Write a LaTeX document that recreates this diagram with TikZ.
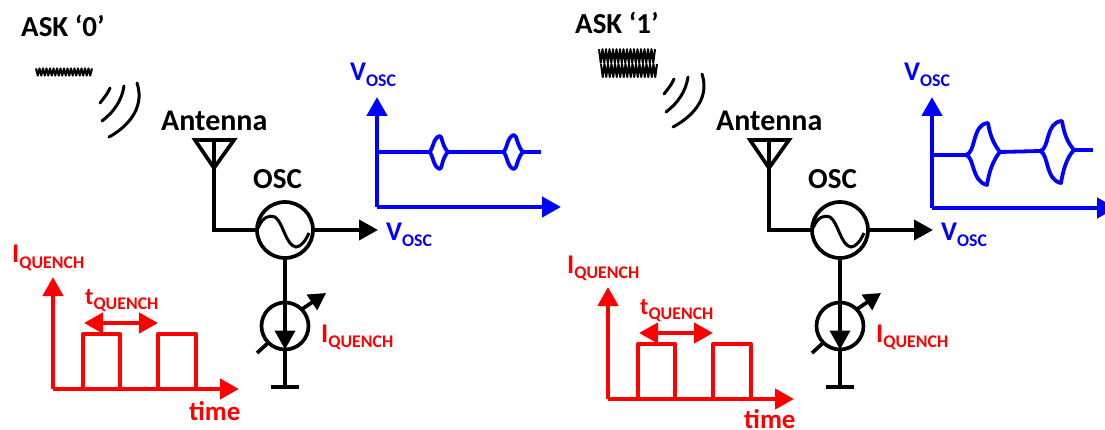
\documentclass[tikz,border=0pt]{standalone}
\usepackage{fontspec}
\setmainfont{Carlito}
\usetikzlibrary{arrows.meta,calc}
\definecolor{ablue}{RGB}{0,0,255}
\definecolor{ared}{RGB}{255,0,0}
\newcommand{\sbs}[1]{\raisebox{-5.5pt}{\fontsize{17.8}{17.8}\selectfont\bfseries #1}}
\tikzset{
  wire/.style={line width=3.7pt,draw=black,line join=miter},
  tipk/.style={-{Triangle[length=19pt,width=20pt]}},
  tipkk/.style={{Triangle[length=19pt,width=20pt]}-{Triangle[length=19pt,width=20pt]}},
  bchart/.style={line width=4.5pt,draw=ablue,color=ablue},
  rchart/.style={line width=4.3pt,draw=ared,color=ared},
  wave/.style={line width=3.8pt,draw=ablue,line join=round},
  arcw/.style={line width=3pt,draw=black,line cap=round},
  sq/.style={line width=2pt,draw=black,line join=round},
  ring/.style={circle,draw=black,line width=3.7pt,fill=white,inner sep=0pt,outer sep=0pt},
  big/.style={font=\fontsize{29}{29}\selectfont\bfseries,inner sep=0pt,anchor=base west},
  mid/.style={font=\fontsize{27}{27}\selectfont\bfseries,inner sep=0pt,anchor=base west},
  blab/.style={mid,text=ablue},
  rlab/.style={mid,text=ared},
  klab/.style={big,text=black},
}
\newcommand{\circuit}[1]{%
 \begin{scope}[shift={(#1,0)},name prefix=c#1-]
  \node[klab,font=\fontsize{30}{30}\selectfont\bfseries] (ant) at (161,131) {Antenna};
  \node[klab] (osclab) at (253,189) {OSC};
  \node[ring,minimum size=56pt] (osc) at (285,230) {};
  \node[ring,minimum size=47pt] (cs) at (285,326) {};
  \coordinate (apex) at (214,168);
  \coordinate (gnd) at (285,387);
  \coordinate (out) at (378,230);
  \coordinate (tl) at (195,140);
  \coordinate (tr) at (234,140);
  \coordinate (st) at (214,140);
  \draw[wire] (tl) -- (tr) -- (apex) -- cycle;
  \draw[wire] (st) -- (apex) |- (osc.west);
  \draw[wire,tipk] (osc.east) -- (out);
  \draw[wire] (osc.south) -- (cs.north);
  \draw[wire] (cs.south) -- (gnd);
  \draw[wire] (271,387) -- (299,387);
  \draw[wire,-{Triangle[length=19pt,width=20pt]}] (cs.north) -- (cs.south);
  \draw[line width=3pt,draw=black] (258,228) .. controls (263,216) and (270,215) .. (275,217) .. controls (283,222) and (286,246) .. (296,247) .. controls (301,247) and (306,240) .. (309,233);
  \coordinate (dia) at (257,353);
  \draw[wire] (dia) -- (cs.225);
  \coordinate (dib) at (326,293);
  \draw[wire,-{Triangle[length=17pt,width=18pt]}] (cs.45) -- (dib);
  \node[blab] (vo) at (386,241) {V\sbs{OSC}};
  \node[rlab] (iq) at (321,342) {I\sbs{QUENCH}};
 \end{scope}}
\newcommand{\redchart}[3]{%
 \begin{scope}[shift={(#1,#2)},name prefix=r#1-]
  \node[rlab] (iy) at (12,263) {I\sbs{QUENCH}};
  \node[rlab,font=\fontsize{24}{24}\selectfont\bfseries] (tq) at (85,304) {t\sbs{QUENCH}};
  \node[rlab] (tm) at (189,#3) {time};
  \coordinate (o) at (53,389);
  \coordinate (yt) at (53,277);
  \coordinate (xt) at (239,389);
  \draw[rchart,tipk] (o) -- (yt);
  \draw[rchart,tipk] (o) -- (xt);
  \draw[rchart,line join=round] (83,389) -- (83,334) -- (120,334) -- (120,389);
  \draw[rchart,line join=round] (158,389) -- (158,334) -- (196,334) -- (196,389);
  \coordinate (da) at (84,323);
  \coordinate (db) at (158,323);
  \draw[rchart,tipkk] (da) -- (db);
 \end{scope}}
\begin{document}
\begin{tikzpicture}[x=1pt,y=-1pt]
\useasboundingbox (0,0) rectangle (1105,430);
\node[klab] (ask0) at (21,37) {ASK ‘0’};
\draw[sq] plot[samples=33,domain=36:92] (\x,{72+(mod(round((\x-36)*32/56),2)*2-1)*3.6});
\draw[arcw] (100,103) .. controls (104,98) and (108,93) .. (110,88);
\draw[arcw] (102,121) .. controls (114,112) and (122,100) .. (124,86);
\draw[arcw] (109,137) .. controls (124,129) and (146,110) .. (137,83);
\circuit{0}
\redchart{0}{0}{420}
\node[blab] (vy) at (350,81) {V\sbs{OSC}};
\coordinate (bo) at (377,207);
\coordinate (by) at (377,97);
\coordinate (bx) at (561,207);
\draw[bchart,tipk] (bo) -- (by);
\draw[bchart,tipk] (bo) -- (bx);
\draw[wave] (377,152) -- (429,152) .. controls (433,151) and (433,137) .. (440,136) .. controls (442,136) and (442,146) .. (448,152) .. controls (442,158) and (442,169) .. (440,169) .. controls (433,168) and (433,153) .. (429,152);
\draw[wave] (448,152) -- (503,152) .. controls (507,151) and (507,136) .. (514,135) .. controls (517,135) and (517,146) .. (523,152) .. controls (517,158) and (517,169) .. (514,169) .. controls (507,168) and (507,153) .. (503,152);
\draw[wave] (523,152) -- (541,152);
\node[klab] (ask1) at (575,34) {ASK ‘1’};
\draw[sq] plot[samples=33,domain=599:655] (\x,{56+(mod(round((\x-599)*32/56),2)*2-1)*6.8});
\draw[sq] plot[samples=33,domain=601:657] (\x,{70.5+(mod(round((\x-601)*32/56),2)*2-1)*6.5});
\draw[arcw] (664,94) .. controls (668,89) and (672,84) .. (674,79);
\draw[arcw] (666,112) .. controls (678,103) and (686,91) .. (688,77);
\draw[arcw] (673,127) .. controls (688,119) and (711,101) .. (702,74);
\circuit{555}
\redchart{555}{10}{418}
\node[blab] (vy2) at (904,81) {V\sbs{OSC}};
\coordinate (co) at (932,208);
\coordinate (cy) at (932,97);
\coordinate (cx) at (1116,208);
\draw[bchart,tipk] (co) -- (cy);
\draw[bchart,tipk] (co) -- (cx);
\draw[wave] (932,155) -- (966,155) .. controls (976,153) and (972,124) .. (988,123) .. controls (990,135) and (993,143) .. (1000,152) .. controls (993,160) and (989,172) .. (987,185) .. controls (971,181) and (975,158) .. (966,155);
\draw[wave] (1000,152) -- (1040,151) .. controls (1050,149) and (1045,122) .. (1062,121) .. controls (1064,133) and (1067,142) .. (1074,150) .. controls (1067,157) and (1063,170) .. (1061,183) .. controls (1045,180) and (1049,154) .. (1040,151);
\draw[wave] (1074,150) -- (1093,150);
\end{tikzpicture}
\end{document}
